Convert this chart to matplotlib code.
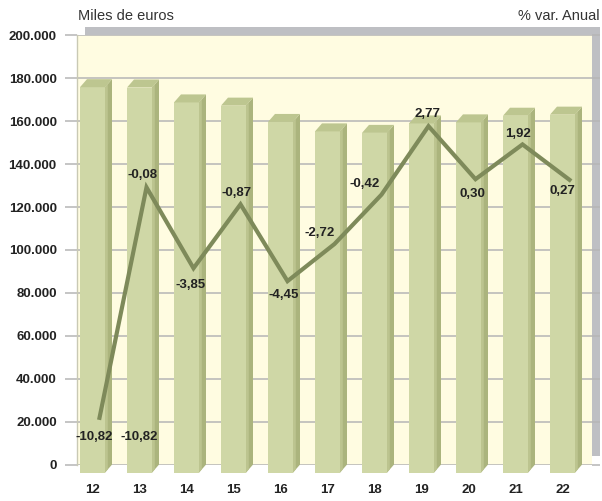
import matplotlib
matplotlib.use("Agg")
import matplotlib.pyplot as plt
from matplotlib.patches import Polygon, Rectangle

plt.rcParams['font.family'] = ['Liberation Sans', 'DejaVu Sans']

# data
years = ['12', '13', '14', '15', '16', '17', '18', '19', '20', '21', '22']
miles_euros = [179600, 179450, 172500, 171000, 163400, 159000, 158300, 162700, 163200, 166300, 166800]
var_anual = [-10.82, -0.08, -3.85, -0.87, -4.45, -2.72, -0.42, 2.77, 0.30, 1.92, 0.27]
var_labels = ['-10,82', '-0,08', '-3,85', '-0,87', '-4,45', '-2,72', '-0,42', '2,77', '0,30', '1,92', '0,27']
# label offsets in pixels (dx, dy) from each point
label_off = [(-5, -19), (-4, 12), (-3, -17), (-4, 11), (-4, -14), (-15, 11),
             (-17, 11), (-1, 12), (-3, -15), (-4, 10), (-7, -11)]
yticks = [0, 20000, 40000, 60000, 80000, 100000, 120000, 140000, 160000, 180000, 200000]
ytick_labels = ['0', '20.000', '40.000', '60.000', '80.000', '100.000', '120.000',
                '140.000', '160.000', '180.000', '200.000']

W, H = 602, 501
cream = '#FFFCE1'
front_c = '#CFD7A6'
side_c = '#ABB47D'
side_c2 = '#BCC48F'
top_c = '#BDC690'
line_c = '#7E8A5A'
grid_c = '#B5B5B5'

fig = plt.figure(figsize=(W / 100, H / 100), dpi=100)

# gray shadow of the plot area (3d wall)
fig.patches.append(Rectangle((85 / W, 1 - 456 / H), (600 - 85) / W, (456 - 27) / H,
                             transform=fig.transFigure, facecolor='#BEBFC3',
                             edgecolor='none', zorder=-5))

x0, x1, y0, y1 = 77, 592, 464.6, 35.4
ax = fig.add_axes([x0 / W, 1 - y0 / H, (x1 - x0) / W, (y0 - y1) / H])
ax.set_facecolor(cream)
xmin = -(92.5 - x0) / 47
xmax = (x1 - 92.5) / 47
ax.set_xlim(xmin, xmax)
ax.set_ylim(0, 200000)

px_x = (xmax - xmin) / (x1 - x0)
px_y = 200000 / (y0 - y1)
bw = 25 * px_x       # front face width
dx = 7 * px_x        # depth offset
dy = 8 * px_y

for s in ['top', 'right', 'bottom']:
    ax.spines[s].set_visible(False)
ax.spines['left'].set_color('#C9C9B4')
ax.spines['left'].set_linewidth(1)

ax.set_yticks(yticks)
ax.set_yticklabels(ytick_labels)
ax.tick_params(axis='y', length=8.6, width=1.1, color=grid_c, pad=6,
               labelsize=9.5, labelcolor='#222222')
for t in ax.get_yticklabels():
    t.set_fontweight('bold')
ax.grid(axis='y', color=grid_c, linewidth=1.1, zorder=0)
ax.set_axisbelow(True)
# gridlines continue across the side wall
ax.hlines(yticks, xmax, xmax + 8 * px_x, color=grid_c, linewidth=1.1, clip_on=False, zorder=0)

xs = list(range(len(years)))
ax.set_xticks(xs)
ax.set_xticklabels(years)
ax.tick_params(axis='x', length=0, pad=14, labelsize=9.5, labelcolor='#222222')
for t in ax.get_xticklabels():
    t.set_fontweight('bold')

# 3d-looking columns
ax.bar(xs, miles_euros, width=bw, bottom=-dy, color=front_c,
       edgecolor='none', zorder=3, clip_on=False)
for x, v in zip(xs, miles_euros):
    r = x + bw / 2
    l = x - bw / 2
    side = Polygon([(r, -dy), (r + dx, 0), (r + dx, v), (r, v - dy)],
                   closed=True, facecolor=side_c, edgecolor='none', zorder=3, clip_on=False)
    # lighter strip at the front edge of the side face (soft shading)
    s2 = dx * 0.4
    side2 = Polygon([(r, -dy), (r + s2, -dy + dy * 0.4), (r + s2, v - dy * 0.6), (r, v - dy)],
                    closed=True, facecolor=side_c2, edgecolor='none', zorder=3, clip_on=False)
    top = Polygon([(l, v - dy), (l + dx, v), (r + dx, v), (r, v - dy)],
                  closed=True, facecolor=top_c, edgecolor='none', zorder=3, clip_on=False)
    ax.add_patch(side)
    ax.add_patch(side2)
    ax.add_patch(top)

# % var. anual line on secondary scale
ax2 = ax.twinx()
ax2.set_ylim(-13, 7)
ax2.set_xlim(xmin, xmax)
ax2.axis('off')
lx = [x + dx for x in xs]
ax2.plot(lx, var_anual, color=line_c, linewidth=3, solid_joinstyle='miter', zorder=4)

for x, v, lab, (ox, oy) in zip(lx, var_anual, var_labels, label_off):
    ax2.annotate(lab, (x, v), xytext=(ox, oy), textcoords='offset pixels',
                 ha='center', va='center', fontsize=9.5, fontweight='bold', color='#222222')
# second "-10,82" under column 13
ax2.annotate(var_labels[0], (lx[1], var_anual[0]), xytext=(-7, -19), textcoords='offset pixels',
             ha='center', va='center', fontsize=9.5, fontweight='bold', color='#222222')

fig.text(78 / W, 1 - 16 / H, 'Miles de euros', ha='left', va='center', fontsize=10.5, color='#333333')
fig.text(600 / W, 1 - 16 / H, '% var. Anual', ha='right', va='center', fontsize=10.5, color='#333333')

fig.savefig('out.png', dpi=100)
